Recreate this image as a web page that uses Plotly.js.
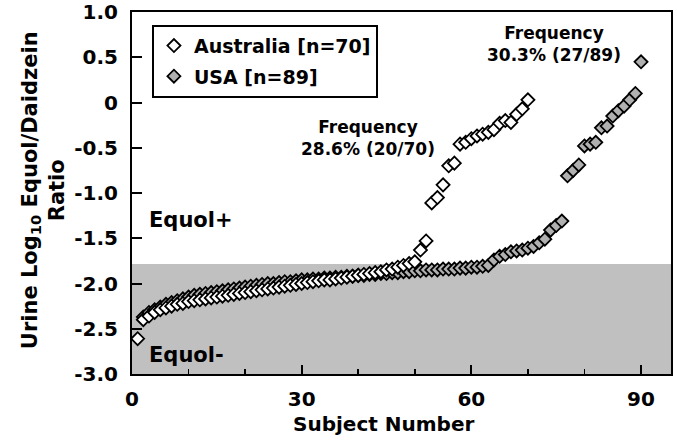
<!DOCTYPE html>
<html>
<head>
<meta charset="utf-8">
<script src="https://cdn.plot.ly/plotly-3.0.1.min.js"></script>
<style>html,body{margin:0;padding:0;background:#fff;}#chart{width:677px;height:440px;}</style>
</head>
<body>
<div id="chart"></div>
<script>
// ---- data ----
const ausValues = [
  -2.61,-2.40,-2.36,-2.32,-2.29,-2.27,-2.25,-2.23,-2.22,-2.20,
  -2.19,-2.18,-2.17,-2.16,-2.15,-2.14,-2.13,-2.12,-2.11,-2.10,
  -2.09,-2.08,-2.07,-2.06,-2.05,-2.04,-2.03,-2.02,-2.01,-2.00,
  -1.99,-1.98,-1.97,-1.96,-1.96,-1.95,-1.94,-1.93,-1.92,-1.91,
  -1.90,-1.89,-1.88,-1.87,-1.85,-1.84,-1.82,-1.80,-1.78,-1.76,
  -1.63,-1.53,-1.11,-1.05,-0.91,-0.70,-0.67,-0.46,-0.44,-0.40,
  -0.37,-0.35,-0.33,-0.30,-0.23,-0.20,-0.22,-0.13,-0.07,0.03
];
const usaValues = [
  -2.37,-2.32,-2.29,-2.26,-2.23,-2.21,-2.19,-2.17,-2.15,-2.13,
  -2.12,-2.11,-2.10,-2.09,-2.08,-2.07,-2.06,-2.05,-2.04,-2.03,
  -2.02,-2.01,-2.00,-2.00,-1.99,-1.98,-1.98,-1.97,-1.96,-1.96,
  -1.95,-1.95,-1.94,-1.94,-1.93,-1.93,-1.92,-1.92,-1.91,-1.91,
  -1.90,-1.90,-1.89,-1.89,-1.88,-1.88,-1.87,-1.87,-1.86,-1.86,
  -1.85,-1.85,-1.85,-1.84,-1.84,-1.84,-1.83,-1.83,-1.82,-1.82,
  -1.81,-1.80,
  -1.74,-1.70,-1.68,-1.65,-1.64,-1.63,-1.61,-1.59,-1.55,-1.51,
  -1.41,-1.36,-1.31,-0.81,-0.75,-0.69,-0.48,-0.46,-0.44,-0.28,
  -0.26,-0.15,-0.09,-0.04,0.03,0.10,0.45
];
const ausFirstSubject = 1;
const usaFirstSubject = 2;
const ausSubjects = ausValues.map((v, i) => i + ausFirstSubject);
const usaSubjects = usaValues.map((v, i) => i + usaFirstSubject);

const seriesNames = ["Australia [n=70]", "USA [n=89]"];
const equolCutoff = -1.785;
const yTickVals = [1.0, 0.5, 0, -0.5, -1.0, -1.5, -2.0, -2.5, -3.0];
const yTickText = ["1.0", "0.5", "0", "-0.5", "-1.0", "-1.5", "-2.0", "-2.5", "-3.0"];
const xTickVals = [0, 30, 60, 90];
const xTickText = ["0", "30", "60", "90"];
const freqLabels = ["Frequency<br>28.6% (20/70)", "Frequency<br>30.3% (27/89)"];

const FONT = "DejaVu Sans, Verdana, sans-serif";

const traces = [
  {
    x: usaSubjects, y: usaValues, name: seriesNames[1], type: "scatter", mode: "markers",
    marker: {symbol: "diamond", size: 10, color: "#b0b0b0", line: {color: "#000", width: 1.8}},
    legendrank: 2, legendgroup: "b"
  },
  {
    x: ausSubjects, y: ausValues, name: seriesNames[0], type: "scatter", mode: "markers",
    marker: {symbol: "diamond", size: 10, color: "#ffffff", line: {color: "#000", width: 1.8}},
    legendrank: 1, legendgroup: "a"
  }
];

const layout = {
  width: 677, height: 440,
  margin: {l: 132, r: 6, t: 12, b: 66},
  paper_bgcolor: "#fff", plot_bgcolor: "#fff",
  font: {family: FONT, color: "#000", size: 19, weight: "bold"},
  showlegend: true,
  legend: {
    x: 0.037, y: 0.965, xanchor: "left", yanchor: "top",
    bgcolor: "#fff", bordercolor: "#000", borderwidth: 2,
    font: {family: FONT, size: 19, color: "#000", weight: "bold"},
    tracegroupgap: 3, itemwidth: 30
  },
  xaxis: {
    range: [0, 95.3], showgrid: false, zeroline: false,
    showline: true, linecolor: "#000", linewidth: 2, mirror: true,
    ticks: "inside", ticklen: 9, tickwidth: 2, tickcolor: "#000",
    tickvals: xTickVals, ticktext: xTickText,
    tickfont: {family: FONT, size: 20, color: "#000", weight: "bold"},
    ticklabelstandoff: 6,
    minor: {dtick: 10, ticks: "inside", ticklen: 5, tickwidth: 1.5, tickcolor: "#000", showgrid: false}
  },
  yaxis: {
    range: [-3, 1], showgrid: false, zeroline: false,
    showline: true, linecolor: "#000", linewidth: 2, mirror: true,
    ticks: "inside", ticklen: 10, tickwidth: 2, tickcolor: "#000",
    tickvals: yTickVals, ticktext: yTickText,
    tickfont: {family: FONT, size: 20, color: "#000", weight: "bold"},
    ticklabelstandoff: 8
  },
  shapes: [
    {type: "rect", xref: "paper", yref: "y", x0: 0, x1: 1, y0: -3, y1: equolCutoff,
     fillcolor: "#c0c0c0", line: {width: 0}, layer: "below"}
  ],
  annotations: [
    {xref: "paper", yref: "paper", x: 0.4675, y: -0.138, text: "Subject Number", showarrow: false,
     xanchor: "center", yanchor: "middle", font: {family: FONT, size: 20, weight: "bold"}},
    {xref: "paper", yref: "paper", x: -0.165, y: 0.508, text: "Urine Log<sub>10</sub> Equol/Daidzein<br>Ratio",
     showarrow: false, textangle: -90, xanchor: "center", yanchor: "middle",
     font: {family: FONT, size: 21, weight: "bold"}},
    {xref: "paper", yref: "paper", x: 0.4378, y: 0.652, text: freqLabels[0], showarrow: false,
     xanchor: "center", yanchor: "middle", font: {family: FONT, size: 17, weight: "bold"}},
    {xref: "paper", yref: "paper", x: 0.7829, y: 0.9116, text: freqLabels[1], showarrow: false,
     xanchor: "center", yanchor: "middle", font: {family: FONT, size: 17, weight: "bold"}},
    {xref: "paper", yref: "paper", x: 0.0278, y: 0.4254, text: "Equol+", showarrow: false,
     xanchor: "left", yanchor: "middle", font: {family: FONT, size: 21, weight: "bold"}},
    {xref: "paper", yref: "paper", x: 0.0278, y: 0.0525, text: "Equol-", showarrow: false,
     xanchor: "left", yanchor: "middle", font: {family: FONT, size: 21, weight: "bold"}}
  ]
};

Plotly.newPlot("chart", traces, layout, {displayModeBar: false, staticPlot: true});
</script>
</body>
</html>
